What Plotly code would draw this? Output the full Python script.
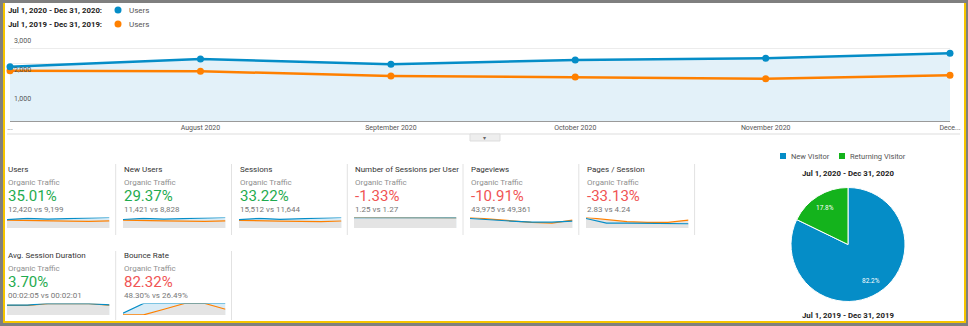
import math
import plotly.graph_objects as go

# ---------------- data ----------------
months = ["2020-07-01", "2020-08-01", "2020-09-01", "2020-10-01", "2020-11-01", "2020-12-01"]
month_labels = ["...", "August 2020", "September 2020", "October 2020", "November 2020", "Dece..."]
users_2020 = [1880, 2145, 1962, 2110, 2170, 2342]
users_2019 = [1740, 1720, 1557, 1522, 1464, 1581]
y_tick_vals = [1000, 2000, 3000]
y_tick_text = ["1,000", "2,000", "3,000"]

period_current = "Jul 1, 2020 - Dec 31, 2020"
period_previous = "Jul 1, 2019 - Dec 31, 2019"
series_name = "Users"

metric_names = ["Users", "New Users", "Sessions", "Number of Sessions per User",
                "Pageviews", "Pages / Session", "Avg. Session Duration", "Bounce Rate"]
metric_segment = "Organic Traffic"
metric_change = [35.01, 29.37, 33.22, -1.33, -10.91, -33.13, 3.70, 82.32]
lower_is_better = [False, False, False, False, False, False, False, True]
metric_current = ["12,420", "11,421", "15,512", "1.25", "43,975", "2.83", "00:02:05", "48.30%"]
metric_previous = ["9,199", "8,828", "11,644", "1.27", "49,361", "4.24", "00:02:01", "26.49%"]

spark_2020 = [
    [1880, 2145, 1962, 2110, 2170, 2342],
    [1740, 1960, 1800, 1930, 1990, 2150],
    [2300, 2660, 2400, 2590, 2670, 2890],
    [1.24, 1.25, 1.24, 1.25, 1.25, 1.25],
    [9700, 8050, 7050, 6050, 6050, 7050],
    [5.7, 2.9, 2.9, 2.75, 2.75, 2.55],
    [111, 112, 130, 130, 128, 115],
    [9, 58, 58, 58, 58, 58],
]
spark_2019 = [
    [1740, 1720, 1557, 1522, 1464, 1581],
    [1610, 1600, 1440, 1400, 1350, 1460],
    [2120, 2100, 1880, 1840, 1770, 1930],
    [1.27, 1.26, 1.26, 1.25, 1.25, 1.24],
    [10700, 9000, 7050, 5700, 4950, 8000],
    [6.3, 4.9, 3.8, 3.4, 3.4, 4.75],
    [109, 109, 127, 127, 127, 112],
    [0.5, 0.5, 29, 58, 58, 29],
]

visitor_types = ["New Visitor", "Returning Visitor"]
visitor_share = [82.2, 17.8]

# ---------------- styling ----------------
W, H = 968, 326
BLUE = "#058dc7"
ORANGE = "#ff8000"
GREEN = "#1fab4f"
RED = "#f05454"
PIE_GREEN = "#14b31c"
FONT = "Roboto"


def fx(px):
    return px / W


def fy(py):
    return 1 - py / H


fig = go.Figure()
shapes = []
annotations = []

# frame: grey page, yellow border, white card
shapes.append(dict(type="rect", xref="paper", yref="paper", x0=fx(3), x1=fx(966), y0=fy(323), y1=fy(3),
                   fillcolor="#f5c400", line=dict(width=0), layer="below"))
shapes.append(dict(type="rect", xref="paper", yref="paper", x0=fx(5), x1=fx(964), y0=fy(321), y1=fy(3),
                   fillcolor="white", line=dict(width=0), layer="below"))

# ---------------- main line chart ----------------
fig.add_trace(go.Scatter(x=months, y=users_2020, mode="lines", line=dict(width=0),
                         fill="tozeroy", fillcolor="#e3f1f9", hoverinfo="skip", showlegend=False))
fig.add_trace(go.Scatter(x=months, y=users_2019, mode="lines+markers", name=period_previous,
                         line=dict(color=ORANGE, width=2.5), marker=dict(size=7, color=ORANGE),
                         cliponaxis=False, showlegend=False))
fig.add_trace(go.Scatter(x=months, y=users_2020, mode="lines+markers", name=period_current,
                         line=dict(color=BLUE, width=2.5), marker=dict(size=7, color=BLUE),
                         cliponaxis=False, showlegend=False))

layout_axes = dict(
    xaxis=dict(domain=[fx(10), fx(950)], type="date", range=[months[0], months[-1]],
               tickvals=months, ticktext=month_labels, showgrid=False, zeroline=False,
               showline=True, linecolor="#9a9a9a", linewidth=1, ticks="", automargin=False,
               tickfont=dict(family=FONT, size=7, color="#555"), fixedrange=True),
    yaxis=dict(domain=[fy(121), fy(34.3)], range=[0, 3000], dtick=500, showticklabels=False,
               gridcolor="#ececec", gridwidth=1, zeroline=False, automargin=False, fixedrange=True),
)

for v, t in zip(y_tick_vals, y_tick_text):
    annotations.append(dict(xref="paper", yref="y", x=fx(12), y=v, text=t, showarrow=False,
                            xanchor="left", yanchor="top", yshift=-1,
                            font=dict(family=FONT, size=7, color="#555")))

# legend rows above the chart
for row_y, label, col in [(10, period_current, BLUE), (24, period_previous, ORANGE)]:
    annotations.append(dict(xref="paper", yref="paper", x=fx(6), y=fy(row_y), text="<b>" + label + ":</b>",
                            showarrow=False, xanchor="left", yanchor="middle",
                            font=dict(family=FONT, size=7.8, color="#222")))
    shapes.append(dict(type="circle", xref="paper", yref="paper", x0=fx(114.5), x1=fx(121.5),
                       y0=fy(row_y + 3.5), y1=fy(row_y - 3.5), fillcolor=col, line=dict(width=0)))
    annotations.append(dict(xref="paper", yref="paper", x=fx(127), y=fy(row_y), text=series_name,
                            showarrow=False, xanchor="left", yanchor="middle",
                            font=dict(family=FONT, size=8, color="#555")))

# divider below the chart with the collapse tab
shapes.append(dict(type="line", xref="paper", yref="paper", x0=fx(7), x1=fx(960), y0=fy(134), y1=fy(134),
                   line=dict(color="#dddddd", width=1)))
shapes.append(dict(type="rect", xref="paper", yref="paper", x0=fx(470), x1=fx(500), y0=fy(141), y1=fy(134),
                   fillcolor="#eeeeee", line=dict(color="#dddddd", width=1)))
annotations.append(dict(xref="paper", yref="paper", x=fx(485), y=fy(137.5), text="▾", showarrow=False,
                        xanchor="center", yanchor="middle", font=dict(family="DejaVu Sans", size=6, color="#666")))

# ---------------- metric tiles ----------------
tile_left = [6, 122, 238, 353, 469, 585, 6, 122]
tile_row = [0, 0, 0, 0, 0, 0, 1, 1]
row_text_y = [(169, 182, 196, 209), (255.5, 268, 281.5, 295)]
row_spark_y = [(217.5, 228), (303.5, 315)]
row_sep_y = [(164, 235), (251, 320)]
sep_x = [115.7, 231.5, 347.3, 463, 578.8, 694.6]

for x in sep_x:
    y0, y1 = row_sep_y[0]
    shapes.append(dict(type="line", xref="paper", yref="paper", x0=fx(x), x1=fx(x), y0=fy(y1), y1=fy(y0),
                       line=dict(color="#e2e2e2", width=1)))
for x in sep_x[:2]:
    y0, y1 = row_sep_y[1]
    shapes.append(dict(type="line", xref="paper", yref="paper", x0=fx(x), x1=fx(x), y0=fy(y1), y1=fy(y0),
                       line=dict(color="#e2e2e2", width=1)))

for i, name in enumerate(metric_names):
    x0 = tile_left[i]
    ty, sy, by, cy = row_text_y[tile_row[i]]
    chg = metric_change[i]
    good = (chg < 0) if lower_is_better[i] else (chg >= 0)
    annotations += [
        dict(xref="paper", yref="paper", x=fx(x0), y=fy(ty), text=name, showarrow=False,
             xanchor="left", yanchor="middle", font=dict(family=FONT, size=8, color="#333")),
        dict(xref="paper", yref="paper", x=fx(x0), y=fy(sy), text=metric_segment, showarrow=False,
             xanchor="left", yanchor="middle", font=dict(family=FONT, size=8, color="#8f8f8f")),
        dict(xref="paper", yref="paper", x=fx(x0 - 0.5), y=fy(by), text=f"{chg:.2f}%", showarrow=False,
             xanchor="left", yanchor="middle", font=dict(family=FONT, size=15, color=GREEN if good else RED)),
        dict(xref="paper", yref="paper", x=fx(x0), y=fy(cy),
             text=f"{metric_current[i]} vs {metric_previous[i]}", showarrow=False,
             xanchor="left", yanchor="middle", font=dict(family=FONT, size=8, color="#777")),
    ]

    # sparkline on its own pair of axes
    k = i + 2
    xa, ya = f"x{k}", f"y{k}"
    ys0, ys1 = row_spark_y[tile_row[i]]
    cur, prev = spark_2020[i], spark_2019[i]
    top = max(max(cur), max(prev))
    steps = list(range(len(cur)))
    layout_axes[f"xaxis{k}"] = dict(domain=[fx(x0 + 1), fx(x0 + 103.5)], range=[0, len(cur) - 1],
                                    visible=False, automargin=False, fixedrange=True)
    layout_axes[f"yaxis{k}"] = dict(domain=[fy(ys1), fy(ys0)], range=[0, top], visible=False,
                                    automargin=False, fixedrange=True)
    fig.add_trace(go.Scatter(x=steps, y=cur, xaxis=xa, yaxis=ya, mode="lines", line=dict(width=0),
                             fill="tozeroy", fillcolor="#d8ebf6", hoverinfo="skip", showlegend=False))
    fig.add_trace(go.Scatter(x=steps, y=prev, xaxis=xa, yaxis=ya, mode="lines", line=dict(width=0),
                             fill="tozeroy", fillcolor="#e4e4e4", hoverinfo="skip", showlegend=False))
    fig.add_trace(go.Scatter(x=steps, y=prev, xaxis=xa, yaxis=ya, mode="lines",
                             line=dict(color=ORANGE, width=1.2), cliponaxis=False, showlegend=False))
    fig.add_trace(go.Scatter(x=steps, y=cur, xaxis=xa, yaxis=ya, mode="lines",
                             line=dict(color=BLUE, width=1.2), cliponaxis=False, showlegend=False))

# ---------------- visitor type pie ----------------
pie_cx, pie_cy, pie_r = 848, 244.5, 57
fig.add_trace(go.Pie(labels=visitor_types, values=visitor_share, sort=False, direction="clockwise",
                     rotation=0, marker=dict(colors=[BLUE, PIE_GREEN], line=dict(color="white", width=1)),
                     textinfo="none",
                     domain=dict(x=[fx(pie_cx - pie_r), fx(pie_cx + pie_r)],
                                 y=[fy(pie_cy + pie_r), fy(pie_cy - pie_r)]), showlegend=False))

# slice percentages placed at three quarters of the radius along each slice's mid-angle
total = sum(visitor_share)
start = 0.0
for share in visitor_share:
    sweep = 360.0 * share / total
    mid = math.radians(start + sweep / 2)
    lx = pie_cx + 0.75 * pie_r * math.sin(mid)
    ly = pie_cy - 0.75 * pie_r * math.cos(mid)
    annotations.append(dict(xref="paper", yref="paper", x=fx(lx), y=fy(ly), text=f"{100 * share / total:.1f}%",
                            showarrow=False, xanchor="center", yanchor="middle",
                            font=dict(family=FONT, size=6.5, color="white")))
    start += sweep

for sx, label, col in [(780, visitor_types[0], BLUE), (839, visitor_types[1], PIE_GREEN)]:
    shapes.append(dict(type="rect", xref="paper", yref="paper", x0=fx(sx), x1=fx(sx + 6), y0=fy(159), y1=fy(153),
                       fillcolor=col, line=dict(width=0)))
    annotations.append(dict(xref="paper", yref="paper", x=fx(sx + 9), y=fy(156), text=label, showarrow=False,
                            xanchor="left", yanchor="middle", font=dict(family=FONT, size=7.5, color="#555")))
for py, label in [(173, period_current), (315, period_previous)]:
    annotations.append(dict(xref="paper", yref="paper", x=fx(848), y=fy(py), text="<b>" + label + "</b>",
                            showarrow=False, xanchor="center", yanchor="middle",
                            font=dict(family=FONT, size=7.8, color="#222")))

fig.update_layout(
    width=W, height=H, autosize=False,
    margin=dict(l=0, r=0, t=0, b=0, pad=0, autoexpand=False),
    paper_bgcolor="#7f7f7f", plot_bgcolor="rgba(0,0,0,0)",
    font=dict(family=FONT),
    shapes=shapes, annotations=annotations,
    hovermode=False,
    **layout_axes,
)

fig.write_html("out.html", config={"displayModeBar": False})
